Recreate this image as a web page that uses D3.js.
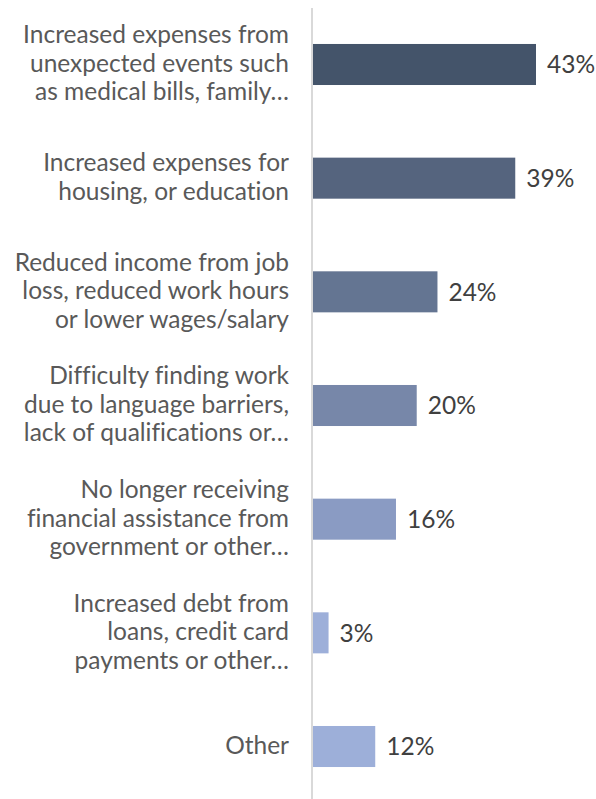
<!DOCTYPE html>
<html>
<head>
<meta charset="utf-8">
<script src="https://cdn.jsdelivr.net/npm/d3@7"></script>
<style>
  html, body { margin: 0; padding: 0; background: #fff; }
  svg { display: block; }
  text { font-variant-ligatures: none; font-feature-settings: "liga" 0; }
</style>
</head>
<body>
<svg id="chart" width="596" height="799"></svg>
<script>
// Reasons for financial hardship (share of respondents, %)
const categories = [
  ["Increased expenses from", "unexpected events such", "as medical bills, family…"],
  ["Increased expenses for", "housing, or education"],
  ["Reduced income from job", "loss, reduced work hours", "or lower wages/salary"],
  ["Difficulty finding work", "due to language barriers,", "lack of qualifications or…"],
  ["No longer receiving", "financial assistance from", "government or other…"],
  ["Increased debt from", "loans, credit card", "payments or other…"],
  ["Other"]
];
const values = [43, 39, 24, 20, 16, 3, 12];
const barColors = ["#44546a", "#55647e", "#647592", "#7787a9", "#8a9bc3", "#9dafd9", "#9dafd9"];

const svg = d3.select("#chart");
const axisX = 312;
const plotTop = 8, plotBottom = 799;

const x = d3.scaleLinear().domain([0, 43]).range([axisX + 1, 536]);
const y = d3.scaleBand()
  .domain(d3.range(values.length))
  .range([8, 803])
  .paddingInner(0.639)
  .paddingOuter(0.3165);

// bars
svg.selectAll("rect.bar")
  .data(values)
  .join("rect")
  .attr("class", "bar")
  .attr("x", x(0))
  .attr("y", (d, i) => y(i))
  .attr("width", d => x(d) - x(0))
  .attr("height", y.bandwidth())
  .attr("fill", (d, i) => barColors[i]);

// vertical category axis line
svg.append("line")
  .attr("x1", axisX).attr("x2", axisX)
  .attr("y1", plotTop).attr("y2", plotBottom)
  .attr("stroke", "#d9d9d9")
  .attr("stroke-width", 2);

// value labels
svg.selectAll("text.value")
  .data(values)
  .join("text")
  .attr("class", "value")
  .attr("x", d => x(d) + 11)
  .attr("y", (d, i) => y(i) + y.bandwidth() / 2)
  .attr("dy", "0.36em")
  .attr("font-family", "Lato, sans-serif")
  .attr("font-size", 24.5)
  .attr("fill", "#404040")
  .text(d => d + "%");

// category labels, right aligned and vertically centred on each bar
const lineH = 28.5;
const labels = svg.selectAll("text.cat")
  .data(categories)
  .join("text")
  .attr("class", "cat")
  .attr("text-anchor", "end")
  .attr("font-family", "Lato, sans-serif")
  .attr("font-size", 24.5)
  .attr("fill", "#595959");

labels.each(function(lines, i) {
  const cy = y(i) + y.bandwidth() / 2;
  const start = cy - (lines.length - 1) * lineH / 2;
  d3.select(this).selectAll("tspan")
    .data(lines)
    .join("tspan")
    .attr("x", 289)
    .attr("y", (d, j) => start + j * lineH)
    .attr("dy", "0.3em")
    .text(d => d);
});
</script>
</body>
</html>
